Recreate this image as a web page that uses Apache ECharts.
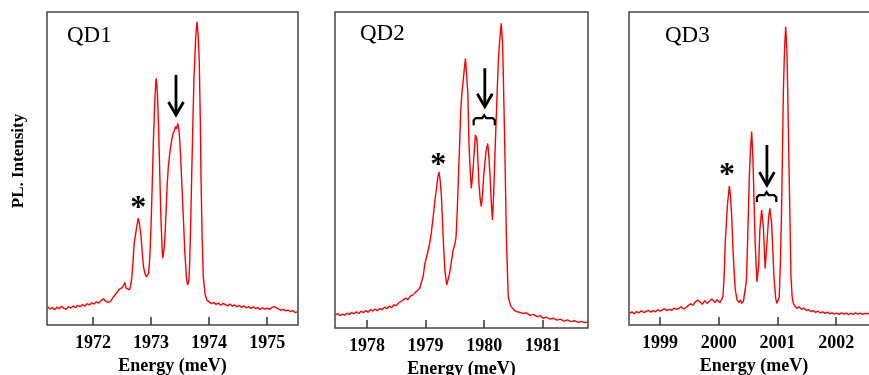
<!DOCTYPE html>
<html><head><meta charset="utf-8">
<script src="https://cdn.jsdelivr.net/npm/echarts@6/dist/echarts.min.js"></script>
<style>html,body{margin:0;padding:0;background:#fff}#c{width:869px;height:375px}</style>
</head><body><div id="c"></div>
<script>
// ---------- DATA ----------
const energy1 = [1971.22,1971.26,1971.30,1971.34,1971.38,1971.42,1971.46,1971.50,1971.54,1971.58,1971.62,1971.66,1971.70,1971.74,1971.78,1971.82,1971.86,1971.90,1971.94,1971.98,1972.02,1972.06,1972.10,1972.14,1972.18,1972.22,1972.26,1972.30,1972.34,1972.38,1972.42,1972.45,1972.48,1972.51,1972.54,1972.55,1972.57,1972.60,1972.63,1972.65,1972.67,1972.69,1972.71,1972.73,1972.76,1972.78,1972.80,1972.83,1972.85,1972.87,1972.90,1972.92,1972.94,1972.96,1972.98,1973.00,1973.02,1973.04,1973.06,1973.08,1973.09,1973.11,1973.13,1973.15,1973.17,1973.19,1973.20,1973.22,1973.24,1973.26,1973.28,1973.30,1973.33,1973.36,1973.38,1973.40,1973.42,1973.44,1973.46,1973.48,1973.49,1973.51,1973.53,1973.56,1973.58,1973.61,1973.63,1973.65,1973.66,1973.68,1973.70,1973.72,1973.74,1973.77,1973.79,1973.81,1973.83,1973.85,1973.86,1973.88,1973.90,1973.93,1973.96,1974.00,1974.04,1974.08,1974.12,1974.16,1974.20,1974.24,1974.28,1974.32,1974.36,1974.40,1974.44,1974.48,1974.52,1974.56,1974.60,1974.64,1974.68,1974.72,1974.76,1974.80,1974.84,1974.88,1974.92,1974.96,1975.00,1975.04,1975.08,1975.12,1975.16,1975.20,1975.24,1975.28,1975.32,1975.36,1975.40,1975.44,1975.48,1975.52];
const pl1 = [5.8,5.1,5.6,4.9,5.7,5.2,6.0,5.3,5.0,5.9,5.4,6.1,5.5,6.3,5.8,6.5,6.0,6.8,6.4,7.1,6.7,7.4,7.0,7.8,8.4,7.6,7.2,7.5,8.6,9.6,10.5,11.4,11.0,12.0,11.6,13.6,11.8,12.4,11.2,12.6,15.4,20.0,26.0,28.5,31.9,34.1,32.5,28.2,23.0,18.6,16.2,15.4,15.8,16.5,22.0,31.4,44.0,58.0,69.0,77.0,78.8,74.0,63.4,49.0,34.6,25.0,21.3,23.5,28.2,36.5,45.3,51.0,55.9,59.5,61.2,62.0,63.4,62.6,64.4,62.5,60.2,54.0,45.3,33.0,24.0,15.0,12.8,14.0,16.5,30.0,47.4,64.0,79.3,92.0,96.9,93.0,84.7,64.0,47.4,28.0,15.4,10.0,8.0,7.4,6.8,7.2,6.6,7.0,6.3,6.9,6.5,6.1,6.7,6.0,6.4,5.8,6.3,5.6,6.1,5.5,5.9,5.3,5.8,5.2,5.6,5.0,5.5,5.1,5.4,5.0,5.6,5.9,5.5,5.1,4.7,5.0,4.5,4.8,4.3,4.6,4.0,4.2];

const energy2 = [1977.46,1977.50,1977.54,1977.58,1977.62,1977.66,1977.70,1977.74,1977.78,1977.82,1977.86,1977.90,1977.94,1977.98,1978.02,1978.06,1978.10,1978.14,1978.18,1978.22,1978.26,1978.30,1978.34,1978.38,1978.42,1978.46,1978.50,1978.54,1978.58,1978.62,1978.66,1978.70,1978.74,1978.78,1978.82,1978.86,1978.90,1978.93,1978.96,1978.99,1979.03,1979.07,1979.10,1979.13,1979.16,1979.19,1979.21,1979.23,1979.25,1979.27,1979.29,1979.31,1979.33,1979.36,1979.38,1979.41,1979.44,1979.47,1979.50,1979.52,1979.54,1979.56,1979.58,1979.60,1979.62,1979.64,1979.66,1979.68,1979.70,1979.72,1979.74,1979.76,1979.78,1979.80,1979.82,1979.85,1979.87,1979.88,1979.91,1979.93,1979.95,1979.97,1979.99,1980.01,1980.03,1980.06,1980.08,1980.10,1980.12,1980.14,1980.16,1980.18,1980.20,1980.22,1980.24,1980.26,1980.29,1980.31,1980.32,1980.35,1980.38,1980.41,1980.45,1980.50,1980.55,1980.60,1980.66,1980.72,1980.78,1980.84,1980.90,1980.96,1981.00,1981.06,1981.12,1981.18,1981.24,1981.30,1981.36,1981.42,1981.48,1981.54,1981.60,1981.66,1981.72,1981.77];
const pl2 = [4.1,4.6,3.9,4.4,4.0,4.7,4.3,4.9,4.5,5.1,4.6,5.3,4.9,5.5,5.0,5.8,5.4,6.0,5.5,6.2,5.8,6.6,6.1,6.9,6.4,7.4,7.0,7.9,8.4,8.9,9.5,9.0,10.1,10.4,11.2,11.8,12.6,13.1,16.5,20.5,23.5,26.8,30.5,35.2,40.5,44.7,48.0,49.3,46.5,41.6,33.0,24.7,18.0,13.6,15.0,17.3,21.0,24.7,26.5,28.9,37.0,47.9,58.0,69.0,74.5,77.9,82.0,85.3,80.0,74.3,58.4,50.0,44.2,48.0,53.2,61.1,60.0,58.4,45.8,41.0,38.4,42.0,47.9,52.0,55.8,58.4,54.0,47.9,40.0,34.2,42.0,53.2,64.0,74.3,84.0,90.1,96.4,91.0,84.8,58.4,26.8,9.9,7.0,5.8,5.2,5.0,4.6,4.8,4.0,4.3,3.6,3.9,3.1,3.4,2.8,3.1,2.5,2.8,2.2,2.6,2.0,2.3,1.8,2.1,1.7,1.9];

const energy3 = [1998.48,1998.52,1998.56,1998.60,1998.64,1998.68,1998.72,1998.76,1998.80,1998.84,1998.88,1998.92,1998.96,1999.00,1999.04,1999.08,1999.12,1999.16,1999.20,1999.24,1999.28,1999.32,1999.36,1999.40,1999.44,1999.48,1999.52,1999.56,1999.60,1999.64,1999.68,1999.72,1999.76,1999.80,1999.84,1999.88,1999.91,1999.94,1999.97,2000.00,2000.02,2000.05,2000.07,2000.09,2000.11,2000.13,2000.15,2000.18,2000.20,2000.22,2000.24,2000.26,2000.28,2000.31,2000.34,2000.37,2000.39,2000.42,2000.45,2000.47,2000.49,2000.52,2000.54,2000.56,2000.58,2000.59,2000.61,2000.62,2000.65,2000.68,2000.70,2000.73,2000.76,2000.79,2000.82,2000.85,2000.87,2000.90,2000.92,2000.94,2000.97,2000.99,2001.01,2001.03,2001.05,2001.07,2001.10,2001.12,2001.14,2001.16,2001.17,2001.20,2001.23,2001.25,2001.27,2001.30,2001.33,2001.37,2001.41,2001.45,2001.49,2001.53,2001.57,2001.61,2001.65,2001.69,2001.73,2001.77,2001.81,2001.85,2001.89,2001.93,2001.97,2002.01,2002.05,2002.09,2002.13,2002.17,2002.21,2002.25,2002.29,2002.33,2002.37,2002.41,2002.45,2002.49,2002.53,2002.57,2002.61,2002.65,2002.69];
const pl3 = [3.7,4.2,3.6,4.3,3.9,4.5,4.0,4.3,4.7,4.1,4.6,4.2,4.9,4.4,4.8,5.2,4.6,5.0,4.7,5.4,5.0,5.3,5.8,5.1,5.6,6.2,6.8,6.3,7.4,8.0,7.4,6.6,7.8,6.9,7.6,8.3,8.0,7.2,8.1,7.6,7.1,8.2,9.0,15.0,26.1,33.0,38.9,44.4,41.0,34.6,25.0,17.6,11.5,8.0,7.2,8.0,6.9,7.6,8.0,14.0,26.1,47.4,56.0,61.8,54.0,47.4,33.0,26.1,13.8,19.2,30.4,36.7,31.4,18.1,26.1,34.6,37.3,32.5,24.0,15.4,8.5,6.9,7.8,9.0,20.0,36.7,74.0,88.0,95.3,88.0,79.3,47.4,15.4,9.0,6.9,6.0,5.3,5.8,5.0,5.4,4.6,4.9,4.3,4.6,4.0,4.4,3.9,4.2,3.7,4.1,3.6,3.9,3.5,3.8,3.4,3.9,3.5,3.8,3.3,3.7,3.4,3.9,3.5,3.8,3.4,3.7,3.5,3.8,3.6,3.9,3.5];

const ticks1 = [1972, 1973, 1974, 1975];
const ticks2 = [1978, 1979, 1980, 1981];
const ticks3 = [1999, 2000, 2001, 2002];
const panelLabels = ['QD1', 'QD2', 'QD3'];
const xAxisTitle = 'Energy (meV)';
const yAxisTitle = 'PL. Intensity';
// annotations in data coords
const stars = [[1972.78, 37.2], [1979.215, 51.4], [2000.14, 47.8]];
const arrows = [[1973.43, 79.9, 67.1], [1980.01, 82.2, 70.0], [2000.82, 57.5, 44.7]];
const brackets = [[], [[1979.82, 1980.18, 66.4]], [[2000.65, 2000.98, 41.5]]];

// ---------- LAYOUT ----------
const panels = [
  {energy: energy1, pl: pl1, ticks: ticks1, min: 1971.21, max: 1975.53, left: 47, top: 12, width: 251, height: 313, labelTop: 24, labelLeft: 67},
  {energy: energy2, pl: pl2, ticks: ticks2, min: 1977.455, max: 1981.77, left: 335, top: 12, width: 253, height: 316, labelTop: 22, labelLeft: 360},
  {energy: energy3, pl: pl3, ticks: ticks3, min: 1998.47, max: 2002.73, left: 629, top: 12, width: 250, height: 313, labelTop: 24, labelLeft: 665}
];
const SERIF = '"Liberation Serif", "Times New Roman", serif';

function renderArrow(params, api) {
  const top = api.coord([api.value(0), api.value(1)]);
  const tip = api.coord([api.value(0), api.value(2)]);
  return {type: 'group', children: [
    {type: 'line', shape: {x1: top[0], y1: top[1], x2: tip[0], y2: tip[1] - 1}, style: {stroke: '#000', lineWidth: 2.8}},
    {type: 'polyline', shape: {points: [[tip[0] - 7.5, tip[1] - 13], [tip[0], tip[1]], [tip[0] + 7.5, tip[1] - 13]]}, style: {stroke: '#000', lineWidth: 2.8, fill: null}}
  ]};
}
function renderBracket(params, api) {
  const a = api.coord([api.value(0), api.value(2)]);
  const b = api.coord([api.value(1), api.value(2)]);
  const y = a[1], m = (a[0] + b[0]) / 2;
  return {type: 'polyline', shape: {points: [
    [a[0], y + 7], [a[0], y + 2], [a[0] + 2, y], [m - 2, y], [m, y - 3], [m + 2, y], [b[0] - 2, y], [b[0], y + 2], [b[0], y + 7]
  ]}, style: {stroke: '#000', lineWidth: 2.2, fill: null}};
}
function renderStar(params, api) {
  const p = api.coord([api.value(0), api.value(1)]);
  return {type: 'text', x: p[0], y: p[1], style: {text: '*', font: 'bold 32px ' + SERIF, align: 'center', verticalAlign: 'middle', fill: '#000'}};
}

const grid = [], xAxis = [], yAxis = [], series = [], title = [];
panels.forEach((p, i) => {
  grid.push({left: p.left, top: p.top, width: p.width, height: p.height, containLabel: false, outerBoundsMode: 'none', show: true, borderColor: '#444', borderWidth: 1.5, backgroundColor: 'transparent'});
  xAxis.push({
    type: 'value', gridIndex: i, min: p.min, max: p.max,
    name: xAxisTitle, nameLocation: 'middle', nameGap: 28,
    nameTextStyle: {fontFamily: SERIF, fontWeight: 'bold', fontSize: 18, color: '#000'},
    axisLine: {show: false}, splitLine: {show: false},
    axisTick: {show: true, inside: true, length: 8, customValues: p.ticks, lineStyle: {color: '#333', width: 1.5}},
    axisLabel: {customValues: p.ticks, margin: 9, formatter: v => String(v), fontFamily: SERIF, fontWeight: 'bold', fontSize: 18, color: '#000'}
  });
  yAxis.push({type: 'value', gridIndex: i, min: 0, max: 100, show: false});
  series.push({
    type: 'line', xAxisIndex: i, yAxisIndex: i, showSymbol: false, silent: true,
    lineStyle: {color: '#ff0000', width: 1.4}, itemStyle: {color: '#ff0000'},
    data: p.energy.map((e, k) => [e, p.pl[k]])
  });
  series.push({type: 'custom', xAxisIndex: i, yAxisIndex: i, silent: true, renderItem: renderStar, data: [stars[i]], encode: {x: 0, y: 1}, z: 5});
  series.push({type: 'custom', xAxisIndex: i, yAxisIndex: i, silent: true, renderItem: renderArrow, data: [arrows[i]], encode: {x: 0, y: [1, 2]}, z: 5});
  if (brackets[i].length) {
    series.push({type: 'custom', xAxisIndex: i, yAxisIndex: i, silent: true, renderItem: renderBracket, data: brackets[i], encode: {x: [0, 1], y: 2}, z: 5});
  }
  title.push({text: panelLabels[i], left: p.labelLeft, top: p.labelTop, padding: 0, textStyle: {fontFamily: SERIF, fontWeight: 'normal', fontSize: 23, color: '#000'}});
});

const chart = echarts.init(document.getElementById('c'), null, {renderer: 'canvas'});
chart.setOption({
  animation: false,
  backgroundColor: '#fff',
  title, grid, xAxis, yAxis, series,
  graphic: [{type: 'text', x: 19, y: 161, rotation: Math.PI / 2, style: {text: yAxisTitle, font: 'bold 17px ' + SERIF, align: 'center', verticalAlign: 'middle', fill: '#000'}}]
});
</script>
</body></html>
